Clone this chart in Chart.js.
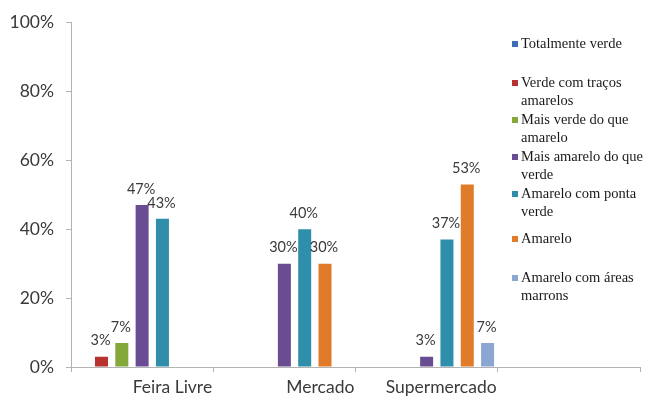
<!DOCTYPE html>
<html>
<head>
<meta charset="utf-8">
<script src="https://cdn.jsdelivr.net/npm/chart.js@4"></script>
<style>
  html, body { margin:0; padding:0; background:#fff; }
  #wrap { width:656px; height:401px; position:relative; }
</style>
</head>
<body>
<div id="wrap"><canvas id="chart"></canvas></div>
<script>
'use strict';

/* ─── Data ─────────────────────────────────────────────────────── */
const categories = ['Feira Livre', 'Mercado', 'Supermercado', ''];

const seriesNames = [
  'Totalmente verde',
  'Verde com traços amarelos',
  'Mais verde do que amarelo',
  'Mais amarelo do que verde',
  'Amarelo com ponta verde',
  'Amarelo',
  'Amarelo com áreas marrons'
];

/* legend text as wrapped in the picture */
const legendLines = [
  ['Totalmente verde'],
  ['Verde com traços', 'amarelos'],
  ['Mais verde do que', 'amarelo'],
  ['Mais amarelo do que', 'verde'],
  ['Amarelo com ponta', 'verde'],
  ['Amarelo'],
  ['Amarelo com áreas', 'marrons']
];

const totalmenteVerde   = [0, 0, 0, null];
const verdeTracos       = [3, 0, 0, null];
const maisVerde         = [7, 0, 0, null];
const maisAmarelo       = [47, 30, 3, null];
const amareloPontaVerde = [43, 40, 37, null];
const amarelo           = [0, 30, 53, null];
const amareloMarrons    = [0, 0, 7, null];

const seriesValues = [totalmenteVerde, verdeTracos, maisVerde, maisAmarelo,
                      amareloPontaVerde, amarelo, amareloMarrons];

const yTicks = [0, 20, 40, 60, 80, 100];

const colors = ['#3d6eb4', '#b8332f', '#85a83a', '#6a4c93', '#2f8faa', '#e07b2a', '#8ca6d2'];

/* ─── Plugins ──────────────────────────────────────────────────── */
/* value labels over non-zero bars */
const valueLabels = {
  id: 'valueLabels',
  afterDatasetsDraw(chart) {
    const ctx = chart.ctx;
    ctx.save();
    ctx.font = '14.5px Lato';
    ctx.fillStyle = '#3a3a3a';
    ctx.textAlign = 'center';
    ctx.textBaseline = 'middle';
    chart.data.datasets.forEach((ds, i) => {
      chart.getDatasetMeta(i).data.forEach((bar, j) => {
        const v = ds.data[j];
        if (!v) return;
        ctx.fillText(v + '%', bar.x - 1, bar.y - 16);
      });
    });
    ctx.restore();
  }
};

/* Excel-style right legend, overlapping the plot */
const sideLegend = {
  id: 'sideLegend',
  afterDraw(chart, args, opts) {
    const ctx = chart.ctx;
    ctx.save();
    ctx.font = '14.5px "Liberation Serif"';
    ctx.textBaseline = 'middle';
    legendLines.forEach((lines, i) => {
      const y = opts.rows[i];
      ctx.fillStyle = colors[i];
      ctx.fillRect(opts.x, y - 3, 6, 6);
      ctx.fillStyle = '#1a1a1a';
      lines.forEach((t, k) => ctx.fillText(t, opts.x + 9, y + k * opts.lineH));
    });
    ctx.restore();
  }
};

/* ─── Chart ────────────────────────────────────────────────────── */
const axisGrey = '#b3b3b3';

new Chart(document.getElementById('chart'), {
  type: 'bar',
  data: {
    labels: categories,
    datasets: seriesNames.map((name, i) => ({
      label          : name,
      data           : seriesValues[i],
      backgroundColor: colors[i],
      borderWidth    : 0,
      categoryPercentage: 1,
      barPercentage  : 0.64
    }))
  },
  options: {
    responsive         : true,
    maintainAspectRatio: false,
    animation          : false,
    layout: { padding: { top: 21, right: 16, left: 0, bottom: 0 } },
    plugins: {
      legend : { display: false },
      tooltip: { enabled: false },
      sideLegend: { x: 512, rows: [44, 83, 120, 157, 194, 239, 278], lineH: 18.5 }
    },
    scales: {
      x: {
        grid  : { drawOnChartArea: false, drawTicks: true, tickLength: 5, color: axisGrey },
        border: { color: axisGrey },
        ticks : { color: '#3a3a3a', font: { family: 'Lato', size: 17.5 }, padding: 5,
                  align: 'end', labelOffset: 70, maxRotation: 0, autoSkip: false },
        afterFit(s) { s.height = 34; }
      },
      y: {
        min: 0, max: 100,
        afterBuildTicks(s) { s.ticks = yTicks.map(v => ({ value: v })); },
        grid  : { drawOnChartArea: false, drawTicks: true, tickLength: 5, color: axisGrey },
        border: { color: axisGrey },
        ticks : { color: '#3a3a3a', font: { family: 'Lato', size: 17.5 }, padding: 12,
                  callback: v => v + '%' },
        afterFit(s) { s.width = 71; }
      }
    }
  },
  plugins: [valueLabels, sideLegend]
});
</script>
</body>
</html>
